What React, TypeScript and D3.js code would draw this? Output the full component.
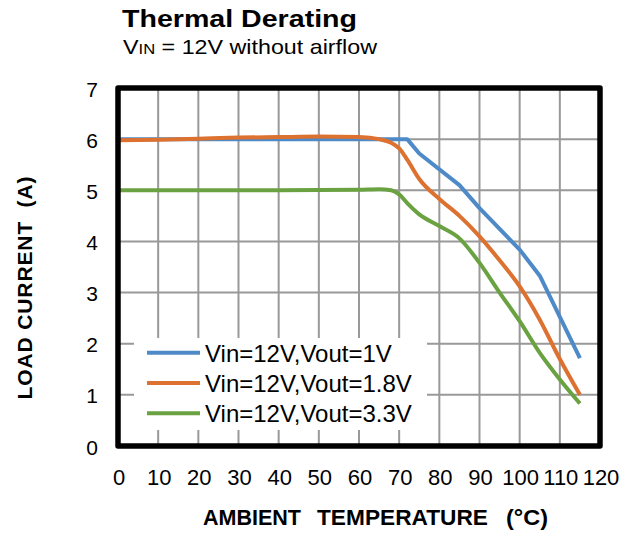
import React from 'react';
import * as d3 from 'd3';

// data
const blueTemps = [0, 72, 75, 85, 90, 100, 105, 115];
const blueLoad = [6, 6, 5.72, 5.1, 4.65, 3.84, 3.33, 1.72];

const orangeTemps = [0, 10, 20, 30, 40, 50, 60, 65, 68, 70, 72, 75, 80, 85, 90, 95, 100, 105, 110, 115];
const orangeLoad = [5.98, 5.99, 6.01, 6.03, 6.04, 6.05, 6.04, 6.0, 5.93, 5.82, 5.6, 5.22, 4.83, 4.5, 4.1, 3.63, 3.12, 2.47, 1.7, 1.0];

const greenTemps = [0, 20, 40, 60, 65, 68, 70, 72, 75, 80, 85, 90, 95, 100, 105, 110, 115];
const greenLoad = [5.0, 5.0, 5.0, 5.01, 5.02, 5.0, 4.92, 4.75, 4.53, 4.3, 4.06, 3.58, 3.0, 2.44, 1.82, 1.3, 0.83];

const seriesNames = ['Vin=12V,Vout=1V', 'Vin=12V,Vout=1.8V', 'Vin=12V,Vout=3.3V'];
const seriesColors = ['#4e8ac8', '#dc7130', '#6aa242'];

const xTicks = [0, 10, 20, 30, 40, 50, 60, 70, 80, 90, 100, 110, 120];
const yTicks = [0, 1, 2, 3, 4, 5, 6, 7];

const xTitleWords = ['AMBIENT', 'TEMPERATURE', '(°C)'];
const xTitleStarts = [203, 317, 506];
const xTitleWidths = [98, 171, 42];

const font = 'Arial, "Liberation Sans", sans-serif';

const App: React.FC = () => {
  const left = 118, right = 600, top = 88, bottom = 446;

  const x = d3.scaleLinear().domain([0, 120]).range([left, right]);
  const y = d3.scaleLinear().domain([0, 7]).range([bottom, top]);

  const toPts = (t: number[], v: number[]) => t.map((d, i) => [d, v[i]] as [number, number]);
  const smooth = d3.line<[number, number]>().x(d => x(d[0])).y(d => y(d[1])).curve(d3.curveMonotoneX);
  const straight = d3.line<[number, number]>().x(d => x(d[0])).y(d => y(d[1]));

  const paths = [
    straight(toPts(blueTemps, blueLoad)),
    smooth(toPts(orangeTemps, orangeLoad)),
    smooth(toPts(greenTemps, greenLoad)),
  ];

  return (
    <svg width={621} height={533} style={{ position: 'absolute', left: 0, top: 0, background: '#fff' }} fontFamily={font}>
      {/* title */}
      <text x={122} y={27} fontSize={24} fontWeight="bold" textLength={235} lengthAdjust="spacingAndGlyphs">Thermal Derating</text>
      <text x={123} y={53.5} fontSize={21} textLength={254} lengthAdjust="spacingAndGlyphs">
        <tspan>V</tspan>
        <tspan fontSize={15}>IN</tspan>
        <tspan>{' = 12V without airflow'}</tspan>
      </text>

      {/* grid */}
      {xTicks.slice(1, -1).map(t => (
        <line key={'gx' + t} x1={x(t)} x2={x(t)} y1={top} y2={bottom} stroke="#999" strokeWidth={2} />
      ))}
      {yTicks.slice(1, -1).map(t => (
        <line key={'gy' + t} x1={left} x2={right} y1={y(t)} y2={y(t)} stroke="#999" strokeWidth={2} />
      ))}

      {/* series */}
      {paths.map((p, i) => (
        <path key={'s' + i} d={p ?? ''} fill="none" stroke={seriesColors[i]} strokeWidth={4} strokeLinejoin="round" />
      ))}

      {/* legend */}
      <rect x={134} y={338} width={293} height={92} fill="#fff" />
      {seriesNames.map((n, i) => (
        <g key={'lg' + i} transform={`translate(0,${352.7 + i * 30.3})`}>
          <line x1={147} x2={200} y1={0} y2={0} stroke={seriesColors[i]} strokeWidth={4} />
          <text x={205} y={9} fontSize={24}>{n}</text>
        </g>
      ))}

      {/* frame */}
      <rect x={left} y={top} width={right - left} height={bottom - top} fill="none" stroke="#000" strokeWidth={5.5} strokeLinejoin="round" />

      {/* tick labels */}
      {xTicks.map(t => (
        <text key={'xt' + t} x={x(t) + 1} y={485} fontSize={22} textAnchor="middle">{t}</text>
      ))}
      {yTicks.map(t => (
        <text key={'yt' + t} x={98} y={y(t) + 8.5} fontSize={21} textAnchor="end">{t}</text>
      ))}

      {/* axis titles */}
      {xTitleWords.map((w, i) => (
        <text key={'xw' + i} x={xTitleStarts[i]} y={525} fontSize={21.5} fontWeight="bold"
          textLength={xTitleWidths[i]} lengthAdjust="spacingAndGlyphs">{w}</text>
      ))}
      <text transform="translate(32,288) rotate(-90)" fontSize={21} fontWeight="bold" textAnchor="middle"
        textLength={223} lengthAdjust="spacing" style={{ whiteSpace: 'pre' }}>
        {'LOAD CURRENT  (A)'}
      </text>
    </svg>
  );
};

export default App;
